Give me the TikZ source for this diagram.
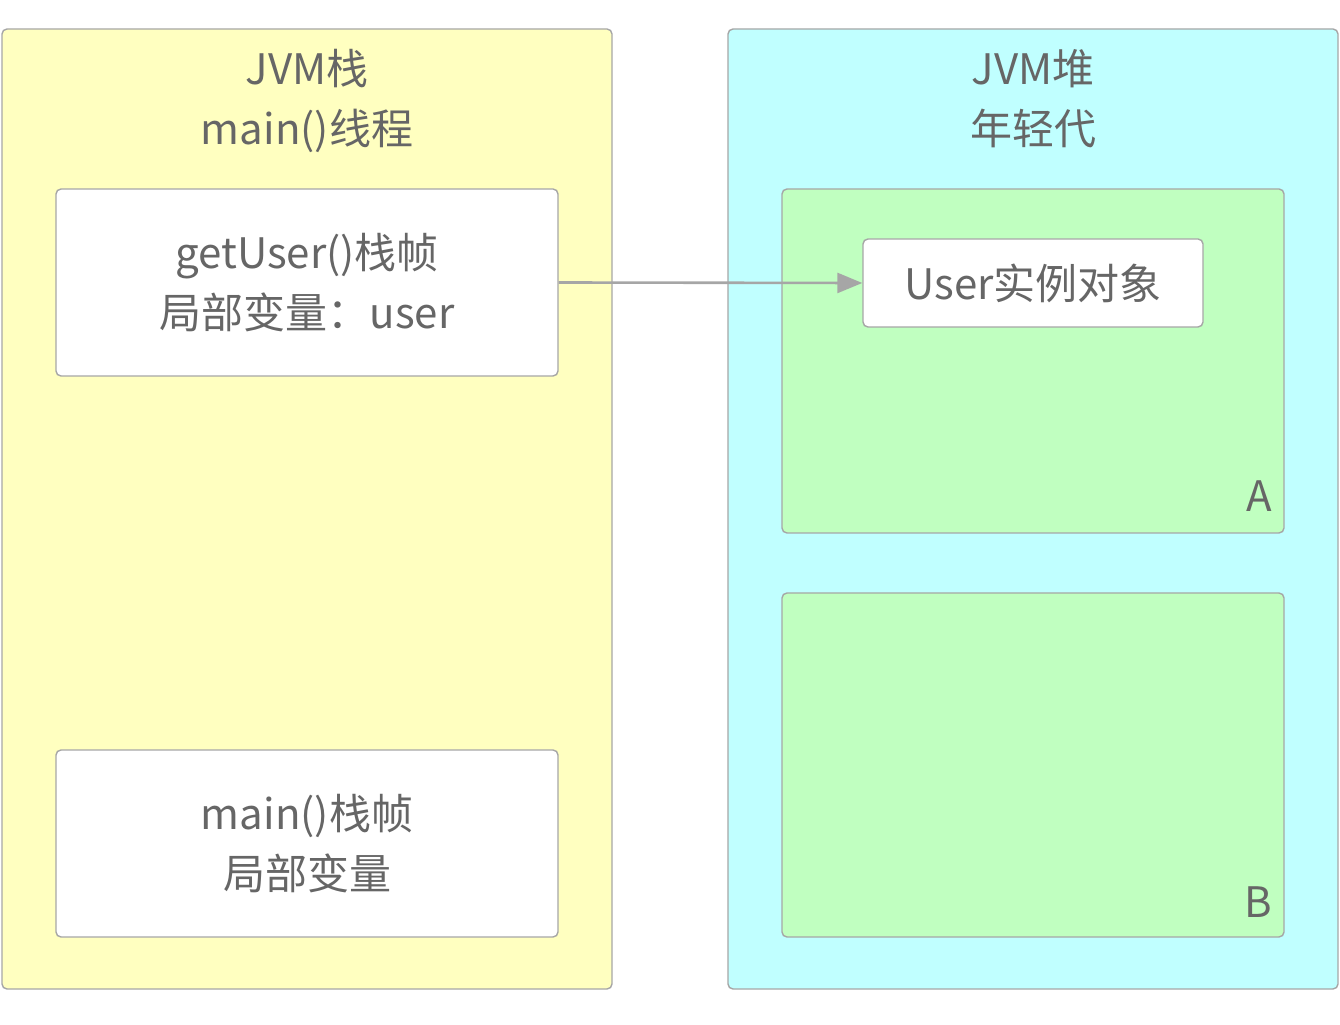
\documentclass[tikz,border=0pt]{standalone}
\usepackage{fontspec}
\setmainfont{Noto Sans CJK SC}
\usepackage{xcolor}
\usetikzlibrary{arrows.meta, positioning}
\definecolor{lineGray}{HTML}{A6A6A6}
\definecolor{textGray}{HTML}{666666}
\definecolor{stackYellow}{HTML}{FFFFC0}
\definecolor{heapCyan}{HTML}{C0FFFF}
\definecolor{genGreen}{HTML}{C0FFC0}

\begin{document}
\begin{tikzpicture}[
    x=1pt, y=1pt,
    every node/.style={text=textGray, font=\fontsize{21}{30}\selectfont},
    area/.style={rectangle, draw=lineGray, line width=0.7pt, minimum width=305pt, minimum height=480pt, rounded corners=2.5pt},
    frame/.style={rectangle, draw=lineGray, line width=0.7pt, fill=white, minimum width=251pt, minimum height=93.5pt, align=center, rounded corners=2.5pt},
    region/.style={rectangle, draw=lineGray, line width=0.7pt, fill=genGreen, minimum width=251pt, minimum height=172pt, rounded corners=2.5pt},
    object/.style={rectangle, draw=lineGray, line width=0.7pt, fill=white, minimum width=170pt, minimum height=44pt, rounded corners=2.5pt}
]
    \useasboundingbox (0,0) rectangle (670,512);

    % JVM stack (left)
    \node (stack) [area, fill=stackYellow] at (153.5,257.5) {};
    \node (stacktitle) [align=center, below=7pt of stack.north] {JVM栈\\main()线程};

    \node (getuser) [frame, below=80pt of stack.north] {getUser()栈帧\\局部变量：user};
    \node (mainframe) [frame, above=26pt of stack.south] {main()栈帧\\局部变量};

    % JVM heap (right)
    \node (heap) [area, fill=heapCyan] at (516.5,257.5) {};
    \node (heaptitle) [align=center, below=7pt of heap.north] {JVM堆\\年轻代};

    \node (genA) [region, below=80pt of heap.north] {};
    \node (genB) [region, above=26pt of heap.south] {};
    \node [anchor=south east, inner sep=0pt] at ([xshift=-6pt, yshift=11pt]genA.south east) {A};
    \node [anchor=south east, inner sep=0pt] at ([xshift=-6pt, yshift=10pt]genB.south east) {B};

    \node (user) [object, below=25pt of genA.north] {User实例对象};

    % Arrows
    \draw[-{Triangle[length=12.5pt, width=10pt]}, line width=1.3pt, draw=lineGray] (getuser.east) -- (user.west);

\end{tikzpicture}
\end{document}
